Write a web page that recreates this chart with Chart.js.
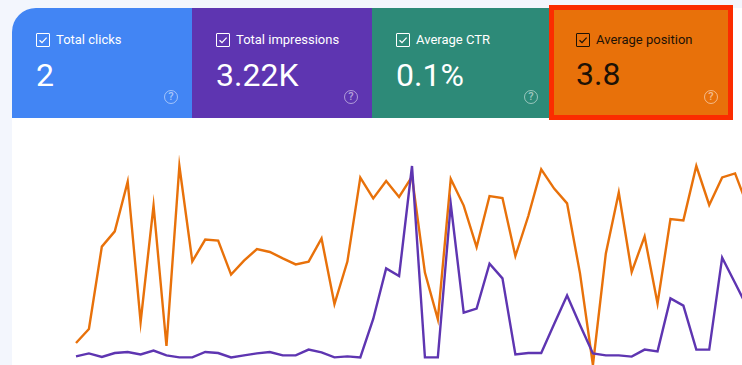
<!DOCTYPE html>
<html lang="en">
<head>
    <meta charset="UTF-8">
    <title>Performance</title>
    <script src="https://cdn.jsdelivr.net/npm/chart.js"></script>
    <style>
        html, body { margin: 0; padding: 0; width: 742px; height: 365px; overflow: hidden; background: #f3f6fd; font-family: Roboto, sans-serif; }
        #panel { position: absolute; left: 12px; top: 8px; width: 730px; height: 357px; background: #fff; border-top-left-radius: 24px; }
        .card { position: absolute; top: 8px; height: 110px; color: #fff; }
        .card .name { position: absolute; left: 44px; top: 24px; font-size: 13px; line-height: 16px; white-space: nowrap; }
        .card .value { position: absolute; left: 24px; top: 48px; font-size: 32px; line-height: 38px; white-space: nowrap; }
        .box { position: absolute; left: 24px; top: 25px; width: 12px; height: 12px; border: 1px solid currentColor; border-radius: 1px; }
        .box svg { position: absolute; left: 0; top: 0; }
        .help { position: absolute; left: 152px; top: 82px; width: 12px; height: 12px; border: 1.5px solid rgba(255,255,255,.5); border-radius: 50%; color: rgba(255,255,255,.55); font-size: 11px; font-weight: 500; line-height: 12px; text-align: center; }
        #clicks { left: 12px; width: 180px; background: #4285f4; border-top-left-radius: 24px; }
        #impressions { left: 192px; width: 180px; background: #5e35b1; }
        #ctr { left: 372px; width: 177px; background: #2d8a78; }
        #position { left: 549px; top: 5px; width: 174px; height: 105px; background: #e8710a; border: 5px solid #fb2c00; color: #1d1206; }
        #position .name { left: 42px; top: 22px; }
        #position .value { left: 22px; top: 45px; }
        #position .box { left: 22px; top: 23px; }
        #position .help { left: 150px; top: 80px; }
        #chart { position: absolute; left: 66px; top: 155px; }
    </style>
</head>
<body>
    <div id="panel"></div>
    <div id="cards"></div>
    <canvas id="chart" width="692" height="220"></canvas>
    <script>
        const cardIds = ['clicks', 'impressions', 'ctr', 'position'];
        const cardNames = ['Total clicks', 'Total impressions', 'Average CTR', 'Average position'];
        const cardValues = ['2', '3.22K', '0.1%', '3.8'];

        const days = ['1','2','3','4','5','6','7','8','9','10','11','12','13','14','15','16','17','18','19','20','21','22','23','24','25','26','27','28','29','30','31','32','33','34','35','36','37','38','39','40','41','42','43','44','45','46','47','48','49','50','51','52','53'];
        const impressions = [4.3,5.8,4,6,6.5,5.3,7.2,4.8,3.8,3.8,6.5,6,3.8,4.8,5.8,6.5,4.8,4.8,7.7,6.3,3.8,4.3,3.8,23,48.3,44.5,99.5,3.8,3.8,80.5,26.2,28.2,50.7,43.3,5.3,6,6,20.5,34.8,20,5.8,4.8,4.8,4.2,7.7,6.8,33.3,29.7,7.7,7.7,53.7,41,28.2];
        const position = [11,18,59.2,66.8,91.7,21.5,79.7,9.5,99.5,51.8,62.7,62.2,45.2,52.2,58,56.5,53.3,50.3,51.7,63.3,30.5,51.7,93.7,83.3,92,84,94.2,46.2,22.8,93,79.7,59,84.5,83.5,54.5,74.5,97.8,88.2,80.8,45.8,0,55.8,86.2,46.5,64.3,30.8,73,72.3,99.5,80,93.8,95.8,78.8];

        const check = '<svg width="12" height="12" viewBox="0 0 12 12"><path d="M2.5 6.2 L5 8.6 L9.6 3.6" fill="none" stroke="currentColor" stroke-width="1.3"/></svg>';
        cardIds.forEach((id, i) => {
            const card = document.createElement('div');
            card.className = 'card';
            card.id = id;
            card.innerHTML = `<div class="box">${check}</div><div class="name">${cardNames[i]}</div><div class="value">${cardValues[i]}</div><div class="help">?</div>`;
            document.getElementById('cards').appendChild(card);
        });

        new Chart(document.getElementById('chart'), {
            type: 'line',
            data: {
                labels: days,
                datasets: [
                    { label: 'Total impressions', data: impressions, borderColor: '#5e35b1', borderWidth: 2.4, pointRadius: 0, tension: 0, clip: false },
                    { label: 'Average position', data: position, borderColor: '#e8710a', borderWidth: 2.4, pointRadius: 0, tension: 0, clip: false }
                ]
            },
            options: {
                responsive: false,
                animation: false,
                layout: { padding: { left: 10, right: 10, top: 10, bottom: 10 } },
                plugins: { legend: { display: false }, tooltip: { enabled: false } },
                scales: {
                    x: { display: false },
                    y: { display: false, min: 0, max: 100 }
                }
            }
        });
    </script>
</body>
</html>
